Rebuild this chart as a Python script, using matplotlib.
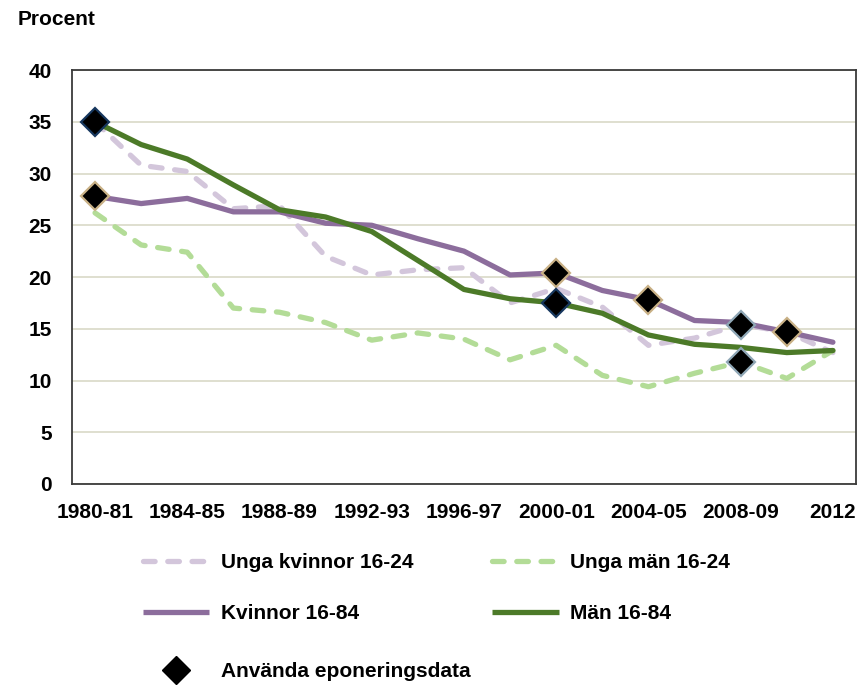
import numpy as np
import matplotlib
matplotlib.use("Agg")
import matplotlib.pyplot as plt
from matplotlib.lines import Line2D

plt.rcParams['font.family'] = ['Liberation Sans', 'DejaVu Sans']
plt.rcParams['font.weight'] = 'bold'

# data
categories = ['1980-81', '1982-83', '1984-85', '1986-87', '1988-89', '1990-91',
              '1992-93', '1994-95', '1996-97', '1998-99', '2000-01', '2002-03',
              '2004-05', '2006-07', '2008-09', '2010-11', '2012']
unga_kvinnor = [35.0, 30.8, 30.2, 26.6, 26.9, 22.0, 20.2, 20.7, 20.9, 17.5, 18.9,
                17.1, 13.4, 14.1, 15.4, 14.7, 12.7]
unga_man = [26.2, 23.1, 22.4, 17.0, 16.6, 15.6, 13.9, 14.6, 14.0, 12.0, 13.4,
            10.5, 9.4, 10.7, 11.8, 10.2, 12.9]
kvinnor = [27.8, 27.1, 27.6, 26.3, 26.3, 25.2, 25.0, 23.7, 22.5, 20.2, 20.4,
           18.7, 17.8, 15.8, 15.6, 14.7, 13.7]
man = [35.0, 32.8, 31.4, 28.9, 26.5, 25.8, 24.4, 21.6, 18.8, 17.9, 17.5,
       16.5, 14.4, 13.5, 13.2, 12.7, 12.9]

# points where exposure data was used (index into categories)
exp_kvinnor = [0, 10, 12, 15]
exp_man = [0, 10]
exp_unga_kvinnor = [14]
exp_unga_man = [14]

tick_labels = ['1980-81', '1984-85', '1988-89', '1992-93', '1996-97',
               '2000-01', '2004-05', '2008-09', '2012']

c_uk = '#D3C6DB'
c_um = '#B3DC97'
c_k = '#8C6D9C'
c_m = '#4C7A28'

x = np.arange(len(categories))
fs = 15

fig = plt.figure(figsize=(8.6, 6.87), dpi=100)
ax = fig.add_axes([0.0837, 0.2955, 0.9116, 0.6025])

lw = 3.8
ax.plot(x, unga_kvinnor, color=c_uk, lw=lw, dashes=(2.2, 2.4),
        dash_capstyle='round', zorder=3)
ax.plot(x, unga_man, color=c_um, lw=lw, dashes=(2.2, 2.4),
        dash_capstyle='round', zorder=3)
ax.plot(x, kvinnor, color=c_k, lw=lw, solid_capstyle='round', zorder=4)
ax.plot(x, man, color=c_m, lw=lw, solid_capstyle='round', zorder=5)

ms = 14
for idx, vals, ec in [(exp_kvinnor, kvinnor, '#C9B186'),
                      (exp_man, man, '#17375E'),
                      (exp_unga_kvinnor, unga_kvinnor, '#8FA7B6'),
                      (exp_unga_man, unga_man, '#8FA7B6')]:
    ax.plot(x[idx], np.array(vals)[idx], ls='none', marker='D', ms=ms,
            mfc='black', mec=ec, mew=1.6, zorder=6)

ax.set_xlim(-0.5, len(categories) - 0.5)
ax.set_ylim(0, 40)
ax.set_yticks(range(0, 41, 5))
ax.set_xticks(x[::2])
ax.set_xticklabels(tick_labels)
ax.tick_params(length=0, labelsize=fs)
ax.tick_params(axis='y', pad=14.5)
ax.tick_params(axis='x', pad=14)
ax.yaxis.grid(True, color='#DCDCCC', lw=1.3)
ax.set_axisbelow(True)
for s in ax.spines.values():
    s.set_color('#3A3A3A')
    s.set_linewidth(1.3)

fig.text(0.02, 0.972, 'Procent', fontsize=fs, fontweight='bold', va='center')

def dash_handle(c):
    return Line2D([], [], color=c, lw=lw, dashes=(2.2, 2.4), dash_capstyle='round')

def solid_handle(c):
    return Line2D([], [], color=c, lw=lw, solid_capstyle='butt')

leg_kw = dict(frameon=False, fontsize=fs, handlelength=3.2, handletextpad=0.55,
              labelspacing=1.55, borderpad=0, borderaxespad=0, loc='upper left')
l1 = fig.legend([dash_handle(c_uk), solid_handle(c_k)],
                ['Unga kvinnor 16-24', 'Kvinnor 16-84'],
                bbox_to_anchor=(0.166, 0.195), **leg_kw)
l2 = fig.legend([dash_handle(c_um), solid_handle(c_m)],
                ['Unga män 16-24', 'Män 16-84'],
                bbox_to_anchor=(0.572, 0.195), **leg_kw)
l3 = fig.legend([Line2D([], [], ls='none', marker='D', ms=ms, mfc='black', mec='black')],
                ['Använda eponeringsdata'],
                bbox_to_anchor=(0.166, 0.022), loc='center left', frameon=False,
                fontsize=fs, handlelength=3.2, handletextpad=0.55, borderpad=0,
                borderaxespad=0)

fig.savefig('out.png', dpi=100)
